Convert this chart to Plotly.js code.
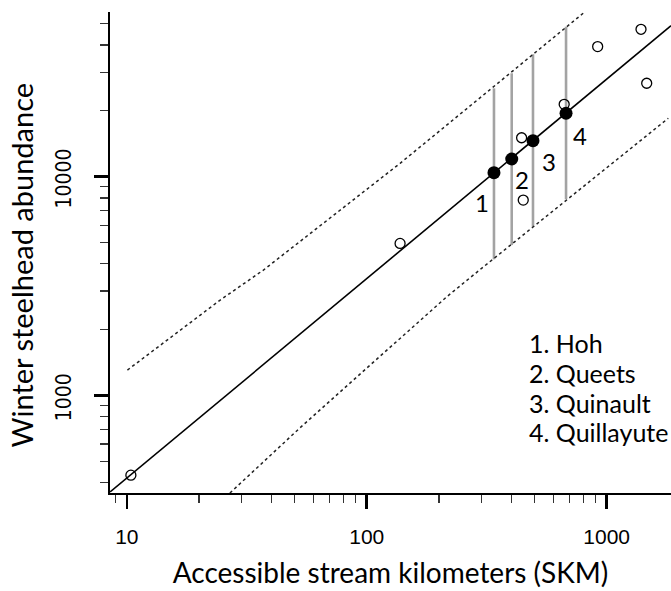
<!DOCTYPE html>
<html>
<head>
<meta charset="utf-8">
<script src="https://cdn.plot.ly/plotly-3.0.1.min.js"></script>
<style>
  html, body { margin: 0; padding: 0; background: #fff; }
  #chart { width: 671px; height: 591px; }
</style>
</head>
<body>
<div id="chart"></div>
<script>
// ---- data ----
const openX = [10.4, 137.7, 442, 449, 665, 917, 1390, 1468];
const openY = [432, 4955, 15070, 7820, 21430, 39350, 47200, 26740];

const riverNames = ["Hoh", "Queets", "Quinault", "Quillayute"];
const riverX = [339, 402, 493, 677];
const riverY = [10430, 12050, 14610, 19500];
const riverLo = [4190, 4870, 5905, 7880];
const riverHi = [25350, 29700, 36300, 48500];

const fitX = [8.52, 1855];
const fitY = [362, 49100];

const upperX = [10.06, 24.5, 37.1, 137.7, 804];
const upperY = [1306, 2729, 3743, 11514, 56260];

const lowerX = [26.9, 52.7, 87.9, 215.4, 301, 1806];
const lowerY = [358, 711, 1175, 2825, 3810, 18500];

const xMajorTicks = [10, 100, 1000];
const xMinorTicks = [9, 20, 30, 40, 50, 60, 70, 80, 90, 200, 300, 400, 500, 600, 700, 800, 900];
const yMajorTicks = [1000, 10000];
const yMinorTicks = [400, 500, 600, 700, 800, 900, 2000, 3000, 4000, 5000, 6000, 7000, 8000, 9000, 20000, 30000, 40000, 50000];

const xTitle = 'Accessible stream kilometers (SKM)';
const yTitle = 'Winter steelhead abundance';

// ---- styling / layout ----
const labelShift = [[-12, -30], [10, -21], [16, -21], [14, -22]];
const titleFont = "Lato, 'Open Sans', sans-serif";
const tickFont = "'Liberation Sans', Arial, sans-serif";
const yTickFont = "'Liberation Sans Narrow', 'Arial Narrow', 'DejaVu Sans Condensed', sans-serif";

const vx = [], vy = [];
riverX.forEach((x, i) => { vx.push(x, x, null); vy.push(riverLo[i], riverHi[i], null); });

const traces = [
  { x: vx, y: vy, mode: 'lines', line: { color: '#a3a3a3', width: 2.6 }, hoverinfo: 'skip' },
  { x: upperX, y: upperY, mode: 'lines', line: { color: '#222', width: 1.5, dash: 'dot' } },
  { x: lowerX, y: lowerY, mode: 'lines', line: { color: '#222', width: 1.5, dash: 'dot' } },
  { x: fitX, y: fitY, mode: 'lines', line: { color: '#000', width: 1.6 } },
  { x: openX, y: openY, mode: 'markers',
    marker: { symbol: 'circle-open', size: 10, color: '#000', line: { width: 1.3, color: '#000' } } },
  { x: riverX, y: riverY, mode: 'markers',
    marker: { symbol: 'circle', size: 13, color: '#000' } }
];

const annotations = riverX.map((x, i) => ({
  x: Math.log10(x), y: Math.log10(riverY[i]), xref: 'x', yref: 'y',
  text: String(i + 1), showarrow: false,
  xshift: labelShift[i][0], yshift: labelShift[i][1],
  font: { family: titleFont, size: 24, color: '#000' }
}));

// legend-like list of river names
const legendTop = 0.3119, legendStep = 0.0620;
riverNames.forEach((n, i) => {
  annotations.push({
    xref: 'paper', yref: 'paper', x: 0.743, y: legendTop - i * legendStep,
    xanchor: 'left', yanchor: 'middle', align: 'left', showarrow: false,
    text: (i + 1) + '. ' + n,
    font: { family: titleFont, size: 25, color: '#000' }
  });
});

// y-axis title
annotations.push({
  xref: 'paper', yref: 'paper', x: -0.157, y: 0.475,
  xanchor: 'center', yanchor: 'middle', textangle: -90, showarrow: false,
  text: yTitle, font: { family: titleFont, size: 29, color: '#000' }
});

const layout = {
  width: 671, height: 591,
  margin: { l: 110, r: 0, t: 12, b: 98 },
  paper_bgcolor: '#fff', plot_bgcolor: '#fff',
  showlegend: false,
  xaxis: {
    type: 'log', range: [0.930, 3.268],
    showgrid: false, zeroline: false,
    showline: true, linecolor: '#000', linewidth: 1.6,
    ticks: 'outside', tickmode: 'array', tickvals: xMajorTicks, ticktext: xMajorTicks.map(String),
    ticklen: 14, tickwidth: 2.6, tickcolor: '#000', ticklabelstandoff: 10,
    tickfont: { family: tickFont, size: 21, color: '#000' },
    minor: { tickmode: 'array', tickvals: xMinorTicks, ticks: 'outside', ticklen: 8, tickwidth: 1.2, tickcolor: '#333', showgrid: false },
    title: { text: xTitle, font: { family: titleFont, size: 28, color: '#000' }, standoff: 16 }
  },
  yaxis: {
    type: 'log', range: [2.554, 4.753],
    showgrid: false, zeroline: false,
    showline: true, linecolor: '#000', linewidth: 1.6,
    ticks: 'outside', tickmode: 'array', tickvals: yMajorTicks, ticktext: yMajorTicks.map(String),
    ticklen: 14, tickwidth: 2.6, tickcolor: '#000', tickangle: -90,
    ticklabelstandoff: 15, ticklabelshift: 5,
    tickfont: { family: yTickFont, size: 21, color: '#000' },
    minor: { tickmode: 'array', tickvals: yMinorTicks, ticks: 'outside', ticklen: 8, tickwidth: 1.2, tickcolor: '#333', showgrid: false }
  },
  annotations: annotations
};

Plotly.newPlot('chart', traces, layout, { displayModeBar: false, staticPlot: true });
</script>
</body>
</html>
